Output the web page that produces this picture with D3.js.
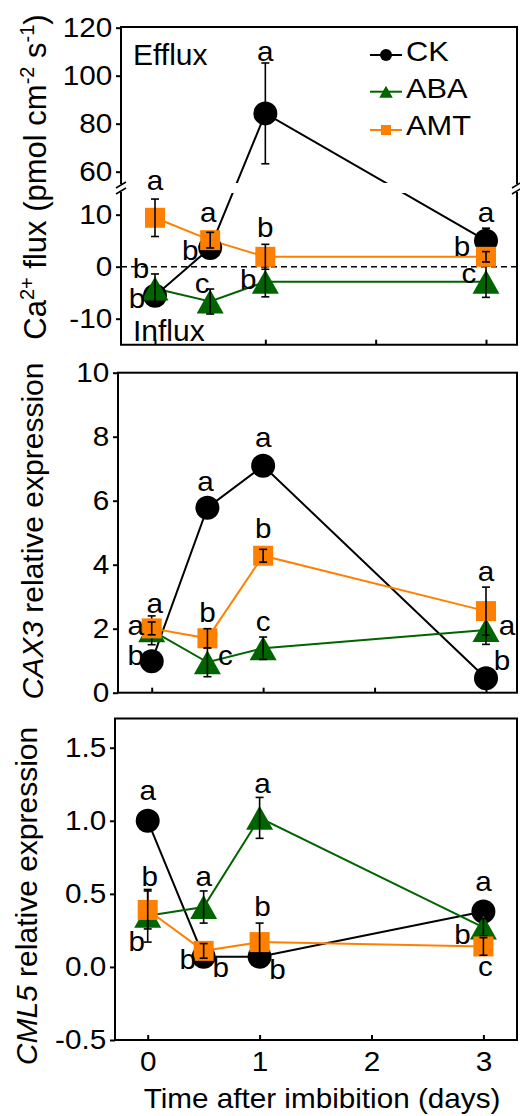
<!DOCTYPE html>
<html>
<head>
<meta charset="utf-8">
<script src="https://cdn.jsdelivr.net/npm/d3@7"></script>
<style>
  body { margin: 0; background: #fff; }
  svg { display: block; font-family: "Liberation Sans", Arial, sans-serif; }
</style>
</head>
<body>
<svg id="chart" width="520" height="1116"></svg>
<script>
// ---- data ----
const days = [0, 0.5, 1, 3];
const seriesNames = ['CK', 'ABA', 'AMT'];

// Ca2+ flux (pmol cm-2 s-1)
const fluxCK = [-5.6, 3.6, 84.3, 5.0];
const fluxCKErr = [1.8, 1.5, 21, 2.4];
const fluxABA = [-4.2, -6.7, -2.9, -2.9];
const fluxABAErr = [2.8, 2.4, 2.9, 3.0];
const fluxAMT = [9.4, 5.1, 1.9, 1.9];
const fluxAMTErr = [3.6, 1.5, 2.4, 1.0];
const fluxCKLetters = ['b', 'b', 'a', 'a'];
const fluxABALetters = ['b', 'c', 'b', 'c'];
const fluxAMTLetters = ['a', 'a', 'b', 'b'];

// CAX3 relative expression
const cax3CK = [0.98, 5.78, 7.09, 0.45];
const cax3CKErr = [0.1, 0.15, 0.15, 0.1];
const cax3ABA = [1.95, 0.95, 1.39, 1.96];
const cax3ABAErr = [0.45, 0.45, 0.35, 0.45];
const cax3AMT = [2.01, 1.70, 4.28, 2.55];
const cax3AMTErr = [0.2, 0.3, 0.2, 0.75];
const cax3CKLetters = ['b', 'a', 'a', 'b'];
const cax3ABALetters = ['a', 'c', 'c', 'a'];
const cax3AMTLetters = ['a', 'b', 'b', 'a'];

// CML5 relative expression
const cml5CK = [1.0, 0.07, 0.07, 0.38];
const cml5CKErr = [0.02, 0.03, 0.03, 0.03];
const cml5ABA = [0.35, 0.41, 1.02, 0.27];
const cml5ABAErr = [0.18, 0.11, 0.14, 0.06];
const cml5AMT = [0.39, 0.11, 0.17, 0.14];
const cml5AMTErr = [0.13, 0.05, 0.13, 0.06];
const cml5CKLetters = ['a', 'b', 'b', 'a'];
const cml5ABALetters = ['b', 'a', 'a', 'b'];
const cml5AMTLetters = ['b', 'b', 'b', 'c'];

const xTicks = [0, 1, 2, 3];
const fluxTicksUp = [60, 80, 100, 120];
const fluxTicksLo = [-10, 0, 10];
const cax3Ticks = [0, 2, 4, 6, 8, 10];
const cml5Ticks = [-0.5, 0, 0.5, 1.0, 1.5];

// ---- styling / placement ----
const colors = { CK: '#000000', ABA: '#006400', AMT: '#ff8000' };
const SX = 1.1; // glyphs in the figure are slightly widened
const svg = d3.select('#chart');
// plain hyphen for negatives, like the original
const loc = d3.formatLocale({ decimal: '.', thousands: ',', grouping: [3], currency: ['', ''], minus: '-' });

// letter offsets (px) from each point, per series
const fluxOffsets = {
  CK: [[-18, 2], [-20, 2], [0, -60], [0, -26]],
  ABA: [[-14, -21], [-8, -16], [-17, -3], [-17, -6]],
  AMT: [[0, -35], [-2, -26], [0, -30], [-24, -11]]
};
const cax3Offsets = {
  CK: [[-16, -6], [-2, -24], [0, -26], [16, -18]],
  ABA: [[-16, -3], [18, -5], [0, -25], [21, -3]],
  AMT: [[3, -23], [0, -26], [0, -28], [0, -38]]
};
const cml5Offsets = {
  CK: [[0, -28], [17, 10], [18, 12], [0, -28]],
  ABA: [[-11, 25], [0, -29], [3, -32], [-21, 6]],
  AMT: [[2, -34], [-16, 8], [3, -36], [2, 22]]
};

function stretchedText(g, x, y, str, size, anchor, sx) {
  return g.append('text')
    .attr('transform', `translate(${x},${y}) scale(${sx || SX},1)`)
    .attr('font-size', size)
    .attr('text-anchor', anchor || 'start')
    .text(str);
}

function marker(g, name, cx, cy, s) {
  const c = colors[name];
  if (name === 'CK') {
    g.append('circle').attr('cx', cx).attr('cy', cy).attr('r', 12 * s).attr('fill', c);
  } else if (name === 'ABA') {
    const w = 27 * s, h = 24 * s;
    g.append('path')
      .attr('d', `M${cx},${cy - h / 2}L${cx + w / 2},${cy + h / 2}L${cx - w / 2},${cy + h / 2}Z`)
      .attr('fill', c);
  } else {
    const a = 20 * s;
    g.append('rect').attr('x', cx - a / 2).attr('y', cy - a / 2)
      .attr('width', a).attr('height', a).attr('fill', c);
  }
}

function drawPanel(p) {
  const g = svg.append('g');
  const x = d3.scaleLinear().domain([0, 3]).range(p.xRange);
  const y = p.y;

  // series lines
  p.series.forEach(s => {
    g.append('path')
      .datum(s.values)
      .attr('fill', 'none')
      .attr('stroke', colors[s.name])
      .attr('stroke-width', 2)
      .attr('d', d3.line().x((d, i) => x(days[i])).y(d => y(d)));
  });
  if (p.afterLines) p.afterLines(g, x);

  // markers + error bars
  p.series.forEach(s => {
    s.values.forEach((v, i) => marker(g, s.name, x(days[i]), y(v), 1));
    s.values.forEach((v, i) => {
      const cx = x(days[i]);
      const y1 = y(v + s.err[i]), y2 = y(v - s.err[i]);
      g.append('line').attr('x1', cx).attr('x2', cx).attr('y1', y1).attr('y2', y2)
        .attr('stroke', '#000').attr('stroke-width', 1.6);
      [y1, y2].forEach(yy => g.append('line')
        .attr('x1', cx - 4).attr('x2', cx + 4).attr('y1', yy).attr('y2', yy)
        .attr('stroke', '#000').attr('stroke-width', 1.6));
    });
  });

  // significance letters
  p.series.forEach(s => {
    s.letters.forEach((l, i) => {
      const off = s.offsets[i];
      const cx = x(days[i]) + off[0];
      const cy = y(s.values[i]) + off[1];
      stretchedText(g, cx, cy + (l === 'b' ? 0.36 : 0.27) * 28, l, 28, 'middle', 1.06);
    });
  });

  // y axis ticks
  p.yAxes.forEach(ax => {
    const a = g.append('g').attr('transform', `translate(${p.box.left},0)`)
      .call(d3.axisLeft(ax.scale).tickValues(ax.ticks).tickSize(5).tickSizeOuter(0)
        .tickFormat(loc.format(ax.format || 'd')));
    a.select('.domain').remove();
    a.selectAll('line').attr('stroke-width', 2);
    a.selectAll('text').attr('font-size', 27).attr('font-family', null)
      .attr('transform', `scale(${SX},1)`);
  });

  // x axis ticks (inward)
  const xa = g.append('g').attr('transform', `translate(0,${p.box.bottom})`)
    .call(d3.axisBottom(x).tickValues(xTicks).tickSize(-5).tickSizeOuter(0).tickPadding(12)
      .tickFormat(p.xLabels ? loc.format('d') : ''));
  xa.select('.domain').remove();
  xa.selectAll('line').attr('stroke-width', 2);
  xa.selectAll('text').attr('font-size', 27).attr('font-family', null)
    .attr('transform', `scale(${SX},1)`);

  // frame
  const b = p.box;
  if (p.breakY) {
    const [b1, b2] = p.breakY;
    const frame = `M${b.left},${b1}V${b.top}H${b.right}V${b1}M${b.right},${b2}V${b.bottom}H${b.left}V${b2}`;
    g.append('path').attr('d', frame).attr('fill', 'none').attr('stroke', '#000').attr('stroke-width', 2);
    [b.left, b.right].forEach(xx => {
      [b1 + 1, b2 - 1].forEach(yy => g.append('line')
        .attr('x1', xx - 5).attr('y1', yy + 3).attr('x2', xx + 5).attr('y2', yy - 3)
        .attr('stroke', '#000').attr('stroke-width', 1.5));
    });
  } else {
    g.append('rect').attr('x', b.left).attr('y', b.top)
      .attr('width', b.right - b.left).attr('height', b.bottom - b.top)
      .attr('fill', 'none').attr('stroke', '#000').attr('stroke-width', 2);
  }
  return { g, x };
}

// ---- panel 1: Ca2+ flux with broken axis ----
const yUp = d3.scaleLinear().domain([55, 120]).range([183.7, 27.7]);
const yLo = d3.scaleLinear().domain([-15, 14.3]).range([344.7, 192.3]);
const yFlux = v => (v > 30 ? yUp(v) : yLo(v));
const box1 = { left: 121, right: 517, top: 27, bottom: 344.7 };

const p1 = drawPanel({
  xRange: [155, 486],
  y: yFlux,
  box: box1,
  breakY: [184, 192],
  series: [
    { name: 'CK', values: fluxCK, err: fluxCKErr, letters: fluxCKLetters, offsets: fluxOffsets.CK },
    { name: 'ABA', values: fluxABA, err: fluxABAErr, letters: fluxABALetters, offsets: fluxOffsets.ABA },
    { name: 'AMT', values: fluxAMT, err: fluxAMTErr, letters: fluxAMTLetters, offsets: fluxOffsets.AMT }
  ],
  afterLines: (g, x) => {
    // gap in the lines at the axis break
    g.append('rect').attr('x', box1.left + 2).attr('y', 183)
      .attr('width', box1.right - box1.left - 4).attr('height', 10).attr('fill', '#fff');
    // zero line
    g.append('line').attr('x1', box1.left).attr('x2', box1.right)
      .attr('y1', yLo(0)).attr('y2', yLo(0))
      .attr('stroke', '#000').attr('stroke-width', 1.5).attr('stroke-dasharray', '6,4');
  },
  yAxes: [{ scale: yUp, ticks: fluxTicksUp }, { scale: yLo, ticks: fluxTicksLo }]
});

p1.g.append('text').attr('x', 133).attr('y', 65).attr('font-size', 30).text('Efflux');
p1.g.append('text').attr('x', 133).attr('y', 341).attr('font-size', 30).text('Influx');

// legend
const legendY = [55, 91.7, 130];
const legendBase = [60.7, 98.3, 135];
seriesNames.forEach((n, i) => {
  p1.g.append('line').attr('x1', 370).attr('x2', 402).attr('y1', legendY[i]).attr('y2', legendY[i])
    .attr('stroke', colors[n]).attr('stroke-width', 2);
  marker(p1.g, n, 386, legendY[i], 0.5);
  stretchedText(p1.g, 406, legendBase[i], n, 27, 'start', 1.14);
});

// y title panel 1
const t1 = svg.append('text').attr('transform', 'translate(46,177) rotate(-90)')
  .attr('text-anchor', 'middle').attr('font-size', 31);
t1.append('tspan').text('Ca');
t1.append('tspan').attr('font-size', 20).attr('dy', -12).text('2+');
t1.append('tspan').attr('dy', 12).text(' flux (pmol cm');
t1.append('tspan').attr('font-size', 20).attr('dy', -12).text('-2');
t1.append('tspan').attr('dy', 12).text(' s');
t1.append('tspan').attr('font-size', 20).attr('dy', -12).text('-1');
t1.append('tspan').attr('dy', 12).text(')');

// ---- panel 2: CAX3 ----
const y2 = d3.scaleLinear().domain([0, 10]).range([692.7, 372.7]);
drawPanel({
  xRange: [151.7, 486],
  y: y2,
  box: { left: 118, right: 517, top: 372.7, bottom: 692.7 },
  series: [
    { name: 'CK', values: cax3CK, err: cax3CKErr, letters: cax3CKLetters, offsets: cax3Offsets.CK },
    { name: 'ABA', values: cax3ABA, err: cax3ABAErr, letters: cax3ABALetters, offsets: cax3Offsets.ABA },
    { name: 'AMT', values: cax3AMT, err: cax3AMTErr, letters: cax3AMTLetters, offsets: cax3Offsets.AMT }
  ],
  yAxes: [{ scale: y2, ticks: cax3Ticks }]
});
const t2 = svg.append('text').attr('transform', 'translate(43,531) rotate(-90)')
  .attr('text-anchor', 'middle').attr('font-size', 30);
t2.append('tspan').attr('font-style', 'italic').text('CAX3');
t2.append('tspan').text(' relative expression');

// ---- panel 3: CML5 ----
const y3 = d3.scaleLinear().domain([-0.5, 1.7]).range([1040, 718.5]);
drawPanel({
  xRange: [147.7, 483.4],
  y: y3,
  box: { left: 115, right: 517, top: 718.5, bottom: 1040 },
  xLabels: true,
  series: [
    { name: 'CK', values: cml5CK, err: cml5CKErr, letters: cml5CKLetters, offsets: cml5Offsets.CK },
    { name: 'ABA', values: cml5ABA, err: cml5ABAErr, letters: cml5ABALetters, offsets: cml5Offsets.ABA },
    { name: 'AMT', values: cml5AMT, err: cml5AMTErr, letters: cml5AMTLetters, offsets: cml5Offsets.AMT }
  ],
  yAxes: [{ scale: y3, ticks: cml5Ticks, format: '.1f' }]
});
const t3 = svg.append('text').attr('transform', 'translate(37,896) rotate(-90)')
  .attr('text-anchor', 'middle').attr('font-size', 30);
t3.append('tspan').attr('font-style', 'italic').text('CML5');
t3.append('tspan').text(' relative expression');

stretchedText(svg, 322, 1108, 'Time after imbibition (days)', 28, 'middle', 1.06);
</script>
</body>
</html>
